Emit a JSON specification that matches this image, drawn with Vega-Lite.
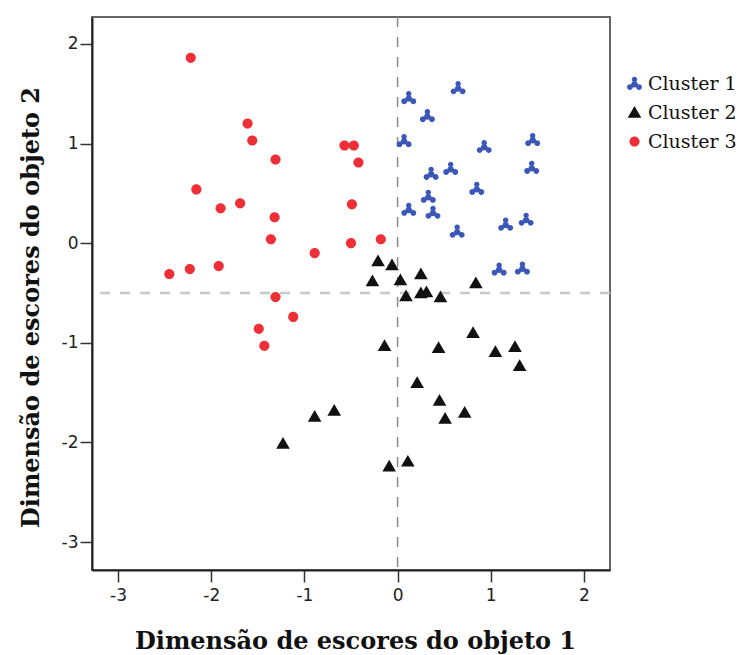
{
  "$schema": "https://vega.github.io/schema/vega-lite/v6.json",
  "autosize": {"type": "none"},
  "width": 518,
  "height": 553,
  "padding": {"left": 92, "top": 17, "right": 131, "bottom": 85},
  "background": "white",
  "config": {
    "view": {"stroke": "#666666", "strokeWidth": 2},
    "axis": {
      "grid": false,
      "domainColor": "#222222",
      "domainWidth": 2,
      "tickColor": "#333333",
      "tickWidth": 1.5,
      "tickSize": 12,
      "labelFont": "DejaVu Sans",
      "labelFontSize": 17,
      "labelColor": "#222222",
      "titleFont": "DejaVu Serif",
      "titleFontSize": 24,
      "titleFontWeight": "bold",
      "titleColor": "#111111"
    }
  },
  "layer": [
    {
      "data": {"values": [{"x": 0}]},
      "mark": {"type": "rule", "color": "#8a8a8a", "strokeWidth": 1.5, "strokeDash": [10, 10]},
      "encoding": {
        "x": {
          "field": "x", "type": "quantitative",
          "scale": {"domain": [-3.28, 2.28], "nice": false, "zero": false},
          "axis": {"values": [-3, -2, -1, 0, 1, 2], "labelExpr": "'' + datum.value", "title": "Dimensão de escores do objeto 1", "labelPadding": 5, "titleBaseline": "alphabetic", "titleY": 78, "titleX": 263}
        }
      }
    },
    {
      "data": {"values": [{"y": -0.5}]},
      "mark": {"type": "rule", "color": "#c8c8c8", "strokeWidth": 2.5, "strokeDash": [10, 10]},
      "encoding": {
        "y": {
          "field": "y", "type": "quantitative",
          "scale": {"domain": [-3.28, 2.27], "nice": false, "zero": false},
          "axis": {"values": [-3, -2, -1, 0, 1, 2], "labelExpr": "'' + datum.value", "title": "Dimensão de escores do objeto 2", "labelPadding": 2, "titleBaseline": "alphabetic", "titleX": -54, "titleY": 290}
        }
      }
    },
    {
      "data": {
        "values": [
          {"x": 0.12, "y": 1.46, "cluster": "Cluster 1"},
          {"x": 0.65, "y": 1.56, "cluster": "Cluster 1"},
          {"x": 0.32, "y": 1.28, "cluster": "Cluster 1"},
          {"x": 0.07, "y": 1.03, "cluster": "Cluster 1"},
          {"x": 0.93, "y": 0.97, "cluster": "Cluster 1"},
          {"x": 1.45, "y": 1.04, "cluster": "Cluster 1"},
          {"x": 0.36, "y": 0.7, "cluster": "Cluster 1"},
          {"x": 0.57, "y": 0.75, "cluster": "Cluster 1"},
          {"x": 1.44, "y": 0.76, "cluster": "Cluster 1"},
          {"x": 0.85, "y": 0.55, "cluster": "Cluster 1"},
          {"x": 0.33, "y": 0.47, "cluster": "Cluster 1"},
          {"x": 0.12, "y": 0.34, "cluster": "Cluster 1"},
          {"x": 0.38, "y": 0.31, "cluster": "Cluster 1"},
          {"x": 0.64, "y": 0.12, "cluster": "Cluster 1"},
          {"x": 1.16, "y": 0.19, "cluster": "Cluster 1"},
          {"x": 1.38, "y": 0.24, "cluster": "Cluster 1"},
          {"x": 1.09, "y": -0.26, "cluster": "Cluster 1"},
          {"x": 1.34, "y": -0.25, "cluster": "Cluster 1"},
          {"x": -0.21, "y": -0.18, "cluster": "Cluster 2"},
          {"x": -0.06, "y": -0.22, "cluster": "Cluster 2"},
          {"x": -0.27, "y": -0.38, "cluster": "Cluster 2"},
          {"x": 0.03, "y": -0.37, "cluster": "Cluster 2"},
          {"x": 0.09, "y": -0.53, "cluster": "Cluster 2"},
          {"x": 0.25, "y": -0.31, "cluster": "Cluster 2"},
          {"x": 0.84, "y": -0.4, "cluster": "Cluster 2"},
          {"x": 0.25, "y": -0.5, "cluster": "Cluster 2"},
          {"x": 0.31, "y": -0.49, "cluster": "Cluster 2"},
          {"x": 0.46, "y": -0.54, "cluster": "Cluster 2"},
          {"x": -0.14, "y": -1.03, "cluster": "Cluster 2"},
          {"x": 0.44, "y": -1.05, "cluster": "Cluster 2"},
          {"x": 0.81, "y": -0.9, "cluster": "Cluster 2"},
          {"x": 1.05, "y": -1.09, "cluster": "Cluster 2"},
          {"x": 1.26, "y": -1.04, "cluster": "Cluster 2"},
          {"x": 1.31, "y": -1.23, "cluster": "Cluster 2"},
          {"x": 0.21, "y": -1.4, "cluster": "Cluster 2"},
          {"x": 0.45, "y": -1.58, "cluster": "Cluster 2"},
          {"x": 0.51, "y": -1.76, "cluster": "Cluster 2"},
          {"x": 0.72, "y": -1.7, "cluster": "Cluster 2"},
          {"x": -0.89, "y": -1.74, "cluster": "Cluster 2"},
          {"x": -0.68, "y": -1.68, "cluster": "Cluster 2"},
          {"x": -1.23, "y": -2.01, "cluster": "Cluster 2"},
          {"x": -0.09, "y": -2.24, "cluster": "Cluster 2"},
          {"x": 0.11, "y": -2.19, "cluster": "Cluster 2"},
          {"x": -2.22, "y": 1.86, "cluster": "Cluster 3"},
          {"x": -1.61, "y": 1.2, "cluster": "Cluster 3"},
          {"x": -1.56, "y": 1.03, "cluster": "Cluster 3"},
          {"x": -1.31, "y": 0.84, "cluster": "Cluster 3"},
          {"x": -0.57, "y": 0.98, "cluster": "Cluster 3"},
          {"x": -0.47, "y": 0.98, "cluster": "Cluster 3"},
          {"x": -0.42, "y": 0.81, "cluster": "Cluster 3"},
          {"x": -2.16, "y": 0.54, "cluster": "Cluster 3"},
          {"x": -1.9, "y": 0.35, "cluster": "Cluster 3"},
          {"x": -1.69, "y": 0.4, "cluster": "Cluster 3"},
          {"x": -1.32, "y": 0.26, "cluster": "Cluster 3"},
          {"x": -0.49, "y": 0.39, "cluster": "Cluster 3"},
          {"x": -1.36, "y": 0.04, "cluster": "Cluster 3"},
          {"x": -0.5, "y": 0.0, "cluster": "Cluster 3"},
          {"x": -0.18, "y": 0.04, "cluster": "Cluster 3"},
          {"x": -0.89, "y": -0.1, "cluster": "Cluster 3"},
          {"x": -2.45, "y": -0.31, "cluster": "Cluster 3"},
          {"x": -2.23, "y": -0.26, "cluster": "Cluster 3"},
          {"x": -1.92, "y": -0.23, "cluster": "Cluster 3"},
          {"x": -1.31, "y": -0.54, "cluster": "Cluster 3"},
          {"x": -1.12, "y": -0.74, "cluster": "Cluster 3"},
          {"x": -1.49, "y": -0.86, "cluster": "Cluster 3"},
          {"x": -1.43, "y": -1.03, "cluster": "Cluster 3"}
        ]
      },
      "mark": {"type": "point", "filled": true, "size": 169, "opacity": 1, "strokeWidth": 0},
      "encoding": {
        "x": {
          "field": "x", "type": "quantitative",
          "scale": {"domain": [-3.28, 2.28], "nice": false, "zero": false},
          "axis": {"values": [-3, -2, -1, 0, 1, 2], "labelExpr": "'' + datum.value", "title": "Dimensão de escores do objeto 1", "labelPadding": 5, "titleBaseline": "alphabetic", "titleY": 78, "titleX": 263}
        },
        "y": {
          "field": "y", "type": "quantitative",
          "scale": {"domain": [-3.28, 2.27], "nice": false, "zero": false},
          "axis": {"values": [-3, -2, -1, 0, 1, 2], "labelExpr": "'' + datum.value", "title": "Dimensão de escores do objeto 2", "labelPadding": 2, "titleBaseline": "alphabetic", "titleX": -54, "titleY": 290}
        },
        "color": {
          "field": "cluster", "type": "nominal",
          "scale": {"domain": ["Cluster 1", "Cluster 2", "Cluster 3"], "range": ["#3b57b8", "#111111", "#ee2f38"]},
          "legend": {
            "title": null, "orient": "none", "legendX": 533, "legendY": 57, "padding": 0,
            "labelFont": "DejaVu Serif", "labelFontSize": 19, "labelColor": "#111111",
            "symbolSize": 169, "rowPadding": 9, "labelOffset": 4, "symbolStrokeWidth": 0
          }
        },
        "shape": {
          "field": "cluster", "type": "nominal",
          "scale": {
            "domain": ["Cluster 1", "Cluster 2", "Cluster 3"],
            "range": [
              "M-0.42,-0.6a0.42,0.42 0 1,0 0.84,0a0.42,0.42 0 1,0 -0.84,0Z M-1.15,0.55a0.45,0.45 0 1,0 0.9,0a0.45,0.45 0 1,0 -0.9,0Z M0.25,0.55a0.45,0.45 0 1,0 0.9,0a0.45,0.45 0 1,0 -0.9,0Z M-0.5,0.12a0.5,0.5 0 1,0 1,0a0.5,0.5 0 1,0 -1,0Z",
              "M0,-1L1.05,0.8L-1.05,0.8Z",
              "M-0.78,0a0.78,0.78 0 1,0 1.56,0a0.78,0.78 0 1,0 -1.56,0Z"
            ]
          },
          "legend": {
            "title": null, "orient": "none", "legendX": 533, "legendY": 57, "padding": 0,
            "labelFont": "DejaVu Serif", "labelFontSize": 19, "labelColor": "#111111",
            "symbolSize": 169, "rowPadding": 9, "labelOffset": 4, "symbolStrokeWidth": 0
          }
        }
      }
    }
  ]
}
